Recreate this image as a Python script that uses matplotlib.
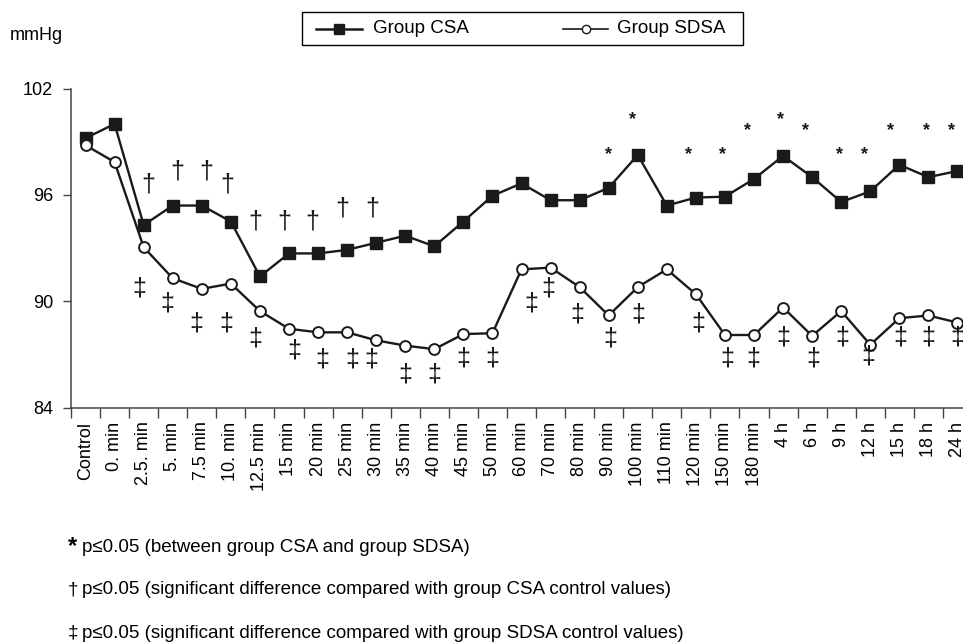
import matplotlib
matplotlib.use("Agg")
import matplotlib.pyplot as plt
from matplotlib.lines import Line2D
from matplotlib.patches import Rectangle

plt.rcParams['font.family'] = ['Liberation Sans', 'DejaVu Sans']

categories = ["Control", "0. min", "2.5. min", "5. min", "7.5 min", "10. min", "12.5 min",
              "15 min", "20 min", "25 min", "30 min", "35 min", "40 min", "45 min", "50 min",
              "60 min", "70 min", "80 min", "90 min", "100 min", "110 min", "120 min",
              "150 min", "180 min", "4 h", "6 h", "9 h", "12 h", "15 h", "18 h", "24 h"]

csa = [99.2, 100.0, 94.3, 95.4, 95.4, 94.5, 91.4, 92.7, 92.7, 92.9, 93.3, 93.7, 93.1,
       94.5, 95.95, 96.65, 95.7, 95.7, 96.4, 98.25, 95.4, 95.85, 95.9, 96.9, 98.2,
       97.0, 95.6, 96.2, 97.7, 97.0, 97.35]

sdsa = [98.8, 97.85, 93.05, 91.3, 90.7, 91.0, 89.45, 88.45, 88.25, 88.25, 87.8, 87.5,
        87.3, 88.15, 88.2, 91.8, 91.9, 90.8, 89.2, 90.8, 91.8, 90.4, 88.1, 88.1, 89.65,
        88.05, 89.45, 87.55, 89.05, 89.2, 88.8]

# significance marks: (category index, y position, x offset in category units)
star_marks = [(18, 98.25, 0.0), (19, 100.22, -0.17), (21, 98.25, -0.24), (22, 98.25, -0.07),
              (23, 99.6, -0.24), (24, 100.22, -0.1), (25, 99.6, -0.24), (26, 98.25, -0.07),
              (27, 98.25, -0.2), (28, 99.6, -0.3), (29, 99.6, -0.07), (30, 99.6, -0.2)]
dagger_marks = [(2, 96.56, 0.15), (3, 97.31, 0.16), (4, 97.31, 0.14), (5, 96.56, -0.14),
                (6, 94.49, -0.16), (7, 94.49, -0.16), (8, 94.49, -0.19), (9, 95.24, -0.18),
                (10, 95.24, -0.15)]
ddagger_marks = [(2, 90.73, -0.16), (3, 89.88, -0.2), (4, 88.76, -0.2), (5, 88.76, -0.16),
                 (6, 87.91, -0.16), (7, 87.25, 0.18), (8, 86.74, 0.14), (9, 86.74, 0.18),
                 (10, 86.74, -0.16), (11, 85.9, 0.0), (12, 85.9, 0.0), (13, 86.78, 0.0),
                 (14, 86.78, 0.0), (15, 89.88, 0.34), (16, 90.73, -0.07), (17, 89.28, -0.07),
                 (18, 87.91, 0.07), (19, 89.28, 0.03), (21, 88.76, 0.07), (22, 86.78, 0.07),
                 (23, 86.78, -0.03), (24, 87.97, 0.0), (25, 86.78, 0.03), (26, 87.97, 0.03),
                 (27, 86.87, -0.07), (28, 87.97, 0.03), (29, 87.97, 0.0), (30, 87.97, 0.0)]

yticks = [84, 90, 96, 102]
footnotes = [("*", "p\u22640.05 (between group CSA and group SDSA)"),
             ("\u2020", "p\u22640.05 (significant difference compared with group CSA control values)"),
             ("\u2021", "p\u22640.05 (significant difference compared with group SDSA control values)")]

W, H = 963, 644
fig = plt.figure(figsize=(W / 100, H / 100), dpi=100)
def fx(px): return px / W
def fy(py): return 1 - py / H

ax = fig.add_axes([fx(71), fy(407.7), fx(972) - fx(71), fy(88.5) - fy(407.7)])
x = list(range(len(categories)))
lc = '#1a1a1a'
ax.plot(x, csa, color=lc, lw=1.7, marker='s', ms=8.2, mfc=lc, mec=lc, zorder=3, clip_on=False)
ax.plot(x, sdsa, color=lc, lw=1.7, marker='o', ms=7.8, mfc='white', mec=lc, mew=1.4, zorder=3, clip_on=False)

ax.set_xlim(-0.5, len(categories) - 0.5)
ax.set_ylim(84, 102)
ax.set_yticks(yticks)
ax.set_yticklabels([str(v) for v in yticks], fontsize=13)
ax.set_xticks([i - 0.5 for i in range(len(categories) + 1)])
ax.set_xticklabels([])
ax.set_xticks(x, minor=True)
ax.set_xticklabels(categories, minor=True, rotation=90, fontsize=13, va='top', ha='center')
ax.tick_params(axis='x', which='major', length=7, width=1, direction='out', color='#444444')
ax.tick_params(axis='x', which='minor', length=0, pad=10)
ax.tick_params(axis='y', length=6, width=1, direction='out', pad=7, color='#444444')
for s in ['top', 'right']:
    ax.spines[s].set_visible(False)
for s in ['left', 'bottom']:
    ax.spines[s].set_color('#444444')
    ax.spines[s].set_linewidth(1.1)

for i, yv, dx in star_marks:
    ax.text(i + dx, yv, "*", ha='center', va='center', fontsize=13, fontweight='bold', color=lc)
for i, yv, dx in dagger_marks:
    ax.text(i + dx, yv, "\u2020", ha='center', va='center', fontsize=18, color=lc)
for i, yv, dx in ddagger_marks:
    ax.text(i + dx, yv, "\u2021", ha='center', va='center', fontsize=18, color=lc)

fig.text(fx(10), fy(36), "mmHg", fontsize=13, va='center', ha='left')

# legend box
fig.add_artist(Rectangle((fx(302), fy(45)), fx(743) - fx(302), fy(12) - fy(45),
                         transform=fig.transFigure, fill=False, edgecolor='black', lw=1.0))
fig.add_artist(Line2D([fx(316), fx(362)], [fy(28.5)] * 2, transform=fig.transFigure, color=lc, lw=1.8))
fig.add_artist(Line2D([fx(339)], [fy(28.5)], transform=fig.transFigure, marker='s', ms=6.5, color=lc))
fig.text(fx(373), fy(28.5), "Group CSA", fontsize=13.5, va='center', ha='left')
fig.add_artist(Line2D([fx(563), fx(608)], [fy(28.5)] * 2, transform=fig.transFigure, color=lc, lw=1.2))
fig.add_artist(Line2D([fx(585.5)], [fy(28.5)], transform=fig.transFigure, marker='o', ms=6,
                      mfc='white', mec=lc, mew=1.0))
fig.text(fx(617), fy(28.5), "Group SDSA", fontsize=13.5, va='center', ha='left')

for k, (sym, txt) in enumerate(footnotes):
    yy = fy(547 + 43 * k)
    fig.text(fx(68), yy, sym, fontsize=17 if k == 0 else 13.5, fontweight='bold' if k == 0 else 'normal',
             va='center', ha='left')
    fig.text(fx(82), yy, txt, fontsize=13.5, va='center', ha='left')

fig.savefig("out.png", dpi=100)
